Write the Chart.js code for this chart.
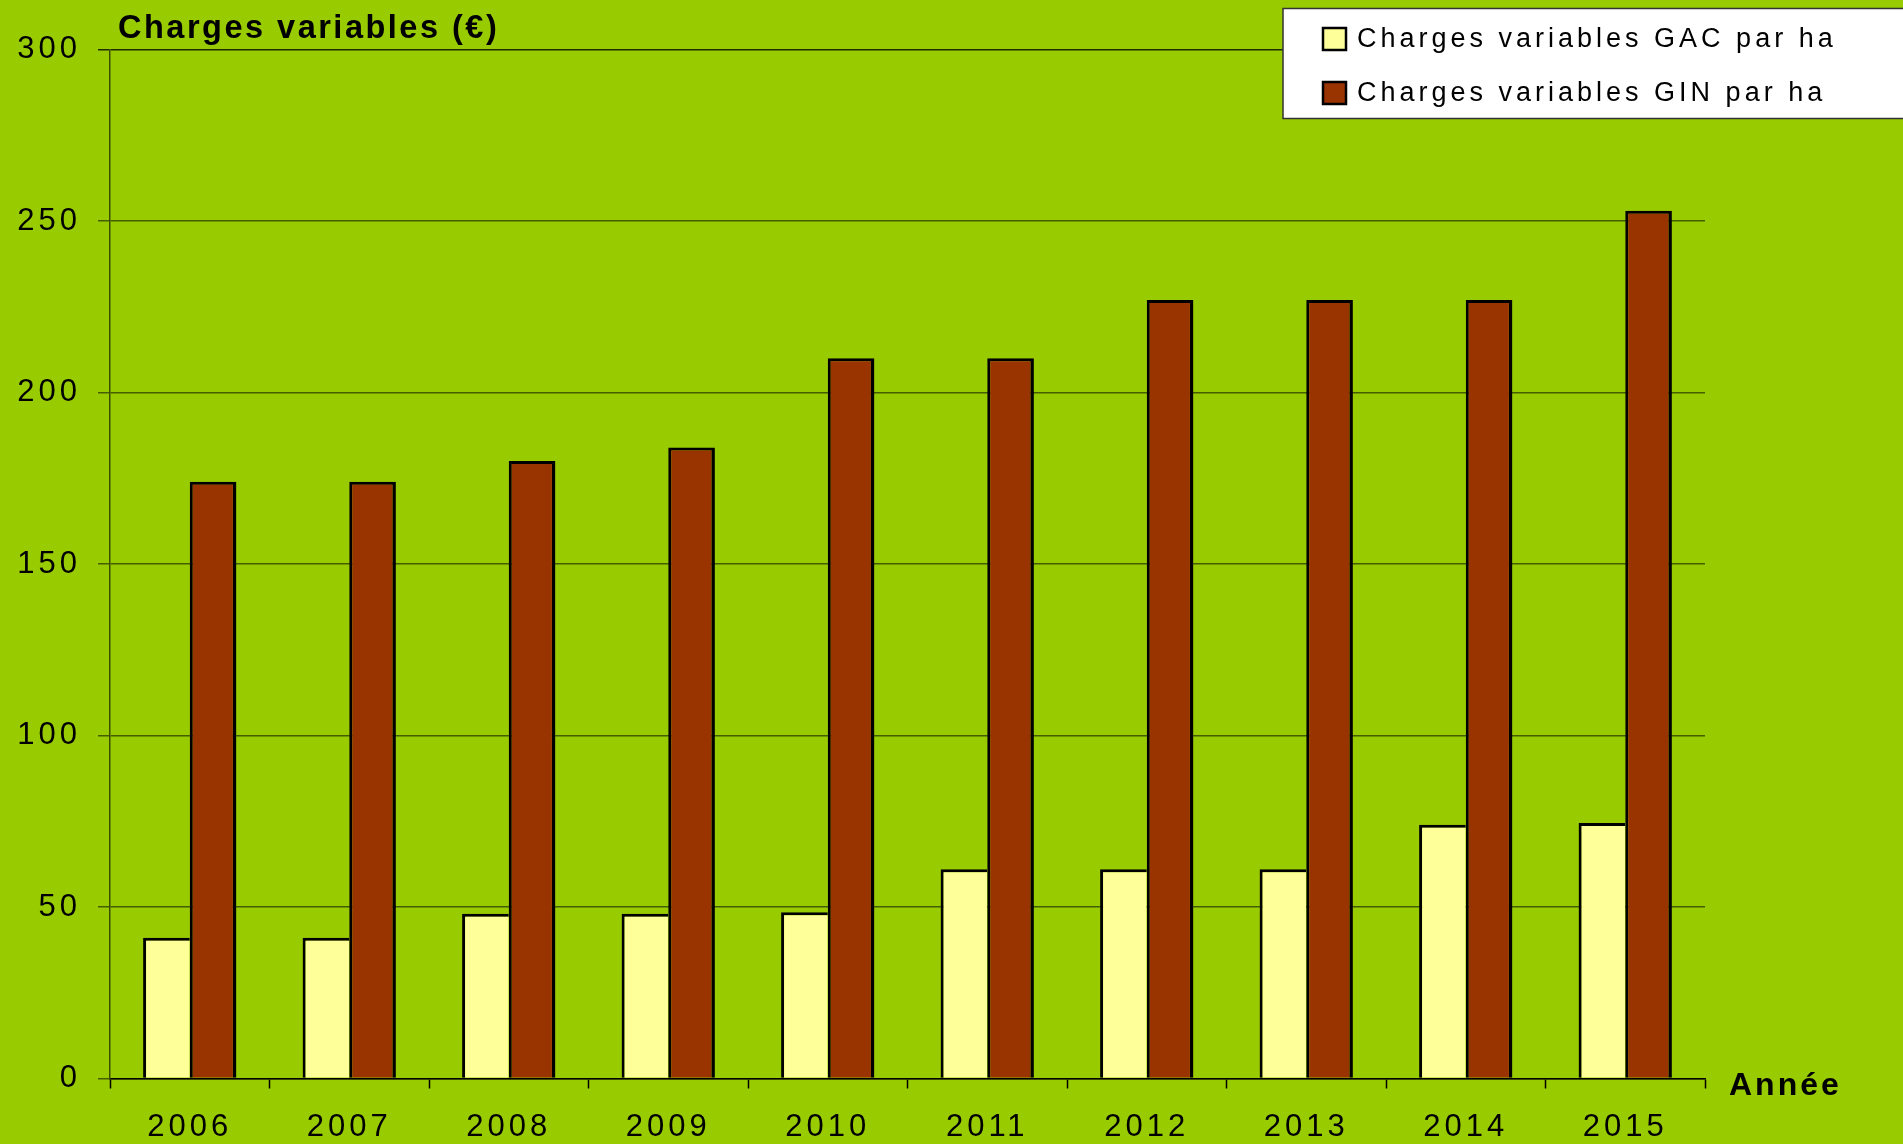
<!DOCTYPE html>
<html lang="fr">
<head>
<meta charset="utf-8">
<title>Charges variables GAC / GIN</title>
<script src="https://cdn.jsdelivr.net/npm/chart.js@4.4.1/dist/chart.umd.min.js"></script>
<style>
    html, body { margin: 0; padding: 0; overflow: hidden; background: #99cc00; }
    #wrap { position: relative; width: 1903px; height: 1144px; }
</style>
</head>
<body>
<div id="wrap"><canvas id="chargesChart"></canvas></div>
<script>
// Données
const annees = ['2006', '2007', '2008', '2009', '2010', '2011', '2012', '2013', '2014', '2015'];
const chargesGAC = [41, 41, 48, 48, 48.5, 61, 61, 61, 74, 74.5];
const chargesGIN = [174, 174, 180, 184, 210, 210, 227, 227, 227, 253];
const seriesLabels = ['Charges variables GAC par ha', 'Charges variables GIN par ha'];
const yMin = 0;
const yMax = 300;
const yStep = 50;
const titreY = 'Charges variables (€)';
const titreX = 'Année';

const police = "'Liberation Sans', Arial, sans-serif";

document.addEventListener('DOMContentLoaded', () => {
    if (typeof Chart === 'undefined') {
        console.error('Chart.js non chargé');
        return;
    }

    // Espacement des lettres pour les textes de Chart.js (graduations)
    const espacementPlugin = {
        id: 'espacement',
        beforeLayout(chart) { chart.ctx.letterSpacing = '4px'; },
        beforeDraw(chart) { chart.ctx.letterSpacing = '4px'; }
    };

    // Titres des axes + légende dessinée en haut à droite
    const decorPlugin = {
        id: 'decor',
        afterDraw(chart) {
            const ctx = chart.ctx;
            ctx.save();
            ctx.fillStyle = '#000';
            ctx.textAlign = 'left';
            ctx.textBaseline = 'alphabetic';

            ctx.letterSpacing = '2.5px';
            ctx.font = 'bold 32.5px ' + police;
            ctx.fillText(titreY, 118, 38);

            ctx.letterSpacing = '3px';
            ctx.font = 'bold 32px ' + police;
            ctx.fillText(titreX, 1729, 1095);

            // Légende
            ctx.fillStyle = '#ffffff';
            ctx.fillRect(1283, 8.5, 640, 110);
            ctx.strokeStyle = '#333333';
            ctx.lineWidth = 1.5;
            ctx.strokeRect(1283, 8.5, 640, 110);

            ctx.letterSpacing = '4px';
            ctx.font = '27px ' + police;
            ctx.textBaseline = 'middle';
            const rows = [39, 93];
            chart.data.datasets.forEach((ds, i) => {
                const y = rows[i];
                ctx.fillStyle = ds.backgroundColor;
                ctx.fillRect(1323, y - 11, 23, 22);
                ctx.strokeStyle = '#000';
                ctx.lineWidth = 2.5;
                ctx.strokeRect(1323, y - 11, 23, 22);
                ctx.fillStyle = '#000';
                ctx.fillText(ds.label, 1357, y + 1);
            });
            ctx.restore();
        }
    };

    const el = document.getElementById('chargesChart');

    new Chart(el, {
        type: 'bar',
        data: {
            labels: annees,
            datasets: [
                {
                    label: seriesLabels[0],
                    data: chargesGAC,
                    backgroundColor: '#ffff99',
                    borderColor: '#000000',
                    // bord droit partagé avec la barre GIN
                    borderWidth: { top: 3, left: 3, right: 0, bottom: 0 }
                },
                {
                    label: seriesLabels[1],
                    data: chargesGIN,
                    backgroundColor: '#993300',
                    borderColor: '#000000',
                    borderWidth: { top: 3, left: 3, right: 3.5, bottom: 0 }
                }
            ]
        },
        options: {
            responsive: true,
            maintainAspectRatio: false,
            animation: false,
            datasets: {
                bar: { categoryPercentage: 0.585, barPercentage: 1.0 }
            },
            layout: {
                padding: { top: 49.5, right: 198, bottom: 0, left: 0 }
            },
            plugins: {
                legend: { display: false },
                title: { display: false },
                tooltip: { enabled: false }
            },
            scales: {
                x: {
                    offset: true,
                    afterFit: (scale) => { scale.height = 65.5; },
                    grid: {
                        offset: true,
                        drawOnChartArea: false,
                        drawTicks: true,
                        tickLength: 10,
                        tickColor: '#000000',
                        tickWidth: 1.5
                    },
                    border: { color: '#000000', width: 1.5 },
                    ticks: {
                        color: '#000000',
                        font: { family: police, size: 31 },
                        padding: 20,
                        maxRotation: 0
                    }
                },
                y: {
                    min: yMin,
                    max: yMax,
                    afterFit: (scale) => { scale.width = 110; },
                    grid: {
                        color: (c) => (c.tick && c.tick.value === yMax) ? '#1f2b00' : '#445e00',
                        lineWidth: 1.5,
                        drawTicks: true,
                        tickLength: 12
                    },
                    border: { color: '#3a4d00', width: 1.5 },
                    ticks: {
                        stepSize: yStep,
                        color: '#000000',
                        font: { family: police, size: 31 },
                        padding: 17
                    }
                }
            }
        },
        plugins: [espacementPlugin, decorPlugin]
    });
});
</script>
</body>
</html>
